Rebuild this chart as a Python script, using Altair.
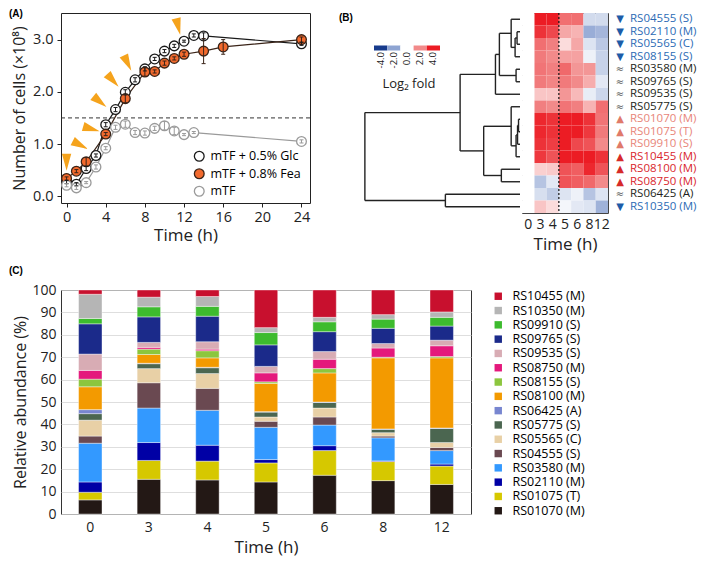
import altair as alt
import pandas as pd

FONT = "Open Sans"

# ---------------- Panel A : growth curves ----------------
glc_hours = [0, 1, 2, 3, 4, 5, 6, 7, 8, 9, 10, 11, 12, 13, 14, 24]
glc_cells = [0.27, 0.23, 0.53, 0.78, 1.37, 1.66, 1.99, 2.23, 2.44, 2.63, 2.78, 2.88, 2.97, 3.08, 3.07, 2.92]
glc_err = [0.03, 0.03, 0.04, 0.03, 0.04, 0.04, 0.05, 0.04, 0.04, 0.03, 0.03, 0.03, 0.02, 0.03, 0.06, 0.03]

fea_hours = [0, 1, 2, 4, 6, 8, 9, 10, 11, 12, 14, 16, 24]
fea_cells = [0.34, 0.48, 0.66, 1.19, 1.87, 2.38, 2.39, 2.55, 2.64, 2.72, 2.78, 2.86, 3.00]
fea_err = [0.03, 0.03, 0.08, 0.03, 0.08, 0.08, 0.03, 0.04, 0.03, 0.04, 0.24, 0.14, 0.05]

mtf_hours = [0, 1, 2, 3, 4, 5, 6, 7, 8, 9, 10, 11, 12, 13, 24]
mtf_cells = [0.21, 0.16, 0.26, 0.56, 0.92, 1.32, 1.38, 1.22, 1.21, 1.30, 1.35, 1.25, 1.18, 1.22, 1.05]
mtf_err = [0.03, 0.03, 0.02, 0.04, 0.03, 0.04, 0.06, 0.04, 0.04, 0.04, 0.08, 0.07, 0.02, 0.02, 0.03]

series_names = ["mTF + 0.5% Glc", "mTF + 0.8% Fea", "mTF"]
series_fill = ["#ffffff", "#f26a2e", "#ffffff"]
series_stroke = ["#1a1a1a", "#3a2418", "#9a9a9a"]

threshold = 1.5

arrow_t = [0, 1.4, 2.53, 3.4, 4.73, 6.23, 11.4]
arrow_y = [0.65, 0.98, 1.29, 1.81, 2.22, 2.55, 3.25]
arrow_angle = [0, 297, 286, 309, 318, 334, 346]

# ---------------- Panel B : heatmap ----------------
genes = ["RS04555 (S)", "RS02110 (M)", "RS05565 (C)", "RS08155 (S)", "RS03580 (M)",
         "RS09765 (S)", "RS09535 (S)", "RS05775 (S)", "RS01070 (M)", "RS01075 (T)",
         "RS09910 (S)", "RS10455 (M)", "RS08100 (M)", "RS08750 (M)", "RS06425 (A)",
         "RS10350 (M)"]
gene_class = ["down", "down", "down", "down", "neutral", "neutral", "neutral", "neutral",
              "uplight", "uplight", "uplight", "up", "up", "up", "neutral", "down"]
heat_times = ["0", "3", "4", "5", "6", "8", "12"]
lfc_0h = [0.0] * 16
lfc_3h = [4.2, 3.6, 2.5, 2.3, 2.4, 2.3, 1.0, 2.2, 3.8, 3.8, 3.6, 3.5, 0.8, -1.3, -0.7, 1.0]
lfc_4h = [4.0, 3.2, 2.2, 2.0, 2.2, 2.1, 1.0, 2.0, 3.6, 3.6, 3.4, 3.0, 0.9, -0.5, -1.1, 0.6]
lfc_5h = [2.5, 1.5, 0.6, 1.6, 2.6, 2.3, 1.8, 2.4, 4.0, 4.2, 4.0, 4.6, 3.0, 3.0, -0.6, -0.2]
lfc_6h = [2.5, 1.3, 1.5, 1.6, 1.8, 2.0, 1.2, 2.2, 4.0, 4.2, 3.2, 4.6, 2.8, 2.8, -0.3, -0.5]
lfc_8h = [-0.8, -1.8, -0.6, -0.3, 1.8, 1.4, -0.4, 1.3, 3.6, 3.5, 3.0, 4.6, 3.8, 2.6, -1.3, -0.6]
lfc_12h = [-0.8, -1.6, -1.2, -1.0, -1.0, -0.5, -0.9, 2.5, 2.4, 2.3, 2.0, 3.6, 3.0, 2.0, -0.6, -1.7]
lfc_cols = [lfc_0h, lfc_3h, lfc_4h, lfc_5h, lfc_6h, lfc_8h, lfc_12h]
split_time = "5"   # dotted line drawn before this column

# dendrogram merges (leaf index = row, 0 at top; new nodes numbered from 16)
merge_a = [1, 16, 0, 4, 18, 20, 8, 22, 23, 7, 12, 25, 21, 14, 28]
merge_b = [2, 3, 17, 5, 19, 6, 9, 10, 11, 24, 13, 26, 27, 15, 29]
merge_h = [3, 5, 9, 4, 21, 25, 1.5, 2.5, 4, 9, 19, 37, 61, 76, 158]

legend_keys = ["-4.0", "-2.0", "0.0", "2.0", "4.0"]
legend_vals = [-4, -2, 0, 2, 4]
heat_colors = ["#173b8c", "#8ea4d2", "#ffffff", "#f28a8a", "#ec1c24"]

# ---------------- Panel C : relative abundance ----------------
bar_times = ["0", "3", "4", "5", "6", "8", "12"]
stack_genes = ["RS01070 (M)", "RS01075 (T)", "RS02110 (M)", "RS03580 (M)", "RS04555 (S)",
               "RS05565 (C)", "RS05775 (S)", "RS06425 (A)", "RS08100 (M)", "RS08155 (S)",
               "RS08750 (M)", "RS09535 (S)", "RS09765 (S)", "RS09910 (S)", "RS10350 (M)",
               "RS10455 (M)"]
stack_colors = ["#231815", "#d6c800", "#0000a5", "#3399ff", "#6a4951", "#e8d0a6",
                "#4b6650", "#7886d0", "#f39a00", "#8cc63e", "#e4197c", "#d8acb4",
                "#1b2a8a", "#3dbb2e", "#b5b5b5", "#c8102e"]
abund_0h = [6.3, 3.4, 4.6, 17.3, 3.2, 7.1, 2.9, 1.8, 10.2, 3.4, 3.9, 7.3, 13.5, 2.4, 10.8, 1.9]
abund_3h = [15.5, 8.4, 8.0, 15.4, 11.3, 6.3, 2.2, 0.2, 3.9, 2.4, 0.8, 2.2, 11.4, 4.5, 4.3, 3.2]
abund_4h = [15.2, 8.4, 7.1, 15.6, 9.8, 6.6, 2.6, 0.2, 4.2, 3.2, 0.7, 3.3, 11.4, 4.4, 4.4, 2.9]
abund_5h = [14.3, 8.5, 1.5, 14.4, 2.7, 1.9, 2.2, 0.2, 12.6, 0.7, 4.0, 2.9, 9.6, 5.5, 2.2, 16.8]
abund_6h = [17.3, 11.0, 2.2, 9.2, 3.6, 4.0, 2.5, 0.2, 13.0, 1.9, 4.2, 3.4, 8.9, 4.4, 2.0, 12.2]
abund_8h = [14.9, 8.5, 0.3, 10.3, 0.8, 1.5, 1.5, 0.2, 31.7, 0.3, 4.1, 2.0, 6.8, 4.1, 2.0, 11.0]
abund_12h = [13.2, 8.2, 0.9, 6.0, 1.4, 2.2, 6.3, 0.2, 31.3, 0.6, 4.8, 2.5, 6.3, 3.9, 2.4, 9.8]
abund_cols = [abund_0h, abund_3h, abund_4h, abund_5h, abund_6h, abund_8h, abund_12h]

IND = dict(color="independent", fill="independent", stroke="independent")

# =====================================================================
# Panel A
rows = []
for name, hs, vs, es in [(series_names[0], glc_hours, glc_cells, glc_err),
                         (series_names[1], fea_hours, fea_cells, fea_err),
                         (series_names[2], mtf_hours, mtf_cells, mtf_err)]:
    for h, v, e in zip(hs, vs, es):
        rows.append(dict(series=name, t=h, n=v, lo=v - e, hi=v + e))
df_a = pd.DataFrame(rows)
df_arrow = pd.DataFrame(dict(t=arrow_t, n=arrow_y, ang=arrow_angle))
df_thr = pd.DataFrame(dict(n=[threshold]))

AW, AH = 249, 190
xs_a = alt.Scale(domain=[-0.57, 24.87], nice=False, zero=False)
ys_a = alt.Scale(domain=[-0.13, 3.51], nice=False, zero=False)
leg_a = alt.Legend(title=None, orient="none", legendX=132, legendY=137, padding=0,
                   symbolSize=95, symbolStrokeWidth=1.3, labelFontSize=12.5,
                   labelFont=FONT, labelOffset=5, rowPadding=1.5, symbolType="circle")
fill_a = alt.Fill("series:N", scale=alt.Scale(domain=series_names, range=series_fill), legend=leg_a)
stroke_a = alt.Stroke("series:N", scale=alt.Scale(domain=series_names, range=series_stroke), legend=leg_a)

x_a = alt.X("t:Q", scale=xs_a, axis=alt.Axis(title="Time (h)", values=[0, 4, 8, 12, 16, 20, 24],
            format="d", grid=False, domain=False, tickSize=4, labelFontSize=14.5,
            titleFontSize=17, labelPadding=3, titlePadding=4))
y_a = alt.Y("n:Q", scale=ys_a, axis=alt.Axis(title="Number of cells (×10⁸)", values=[0, 1, 2, 3],
            format=".1f", grid=False, domain=False, tickSize=4, labelFontSize=14.5,
            titleFontSize=16, labelPadding=4, titleX=-34, titleBaseline="bottom"))

thr = alt.Chart(df_thr).mark_rule(color="#333333", strokeDash=[4, 3], strokeWidth=1).encode(y=alt.Y("n:Q", scale=ys_a))
lines = alt.Chart(df_a).mark_line(strokeWidth=1.2).encode(x=x_a, y=y_a, stroke=stroke_a, detail="series:N")
pts = alt.Chart(df_a).mark_point(shape="circle", size=95, strokeWidth=1.3, opacity=1).encode(
    x=x_a, y=y_a, fill=fill_a, stroke=stroke_a)
ebar = alt.Chart(df_a).mark_rule(strokeWidth=1).encode(x="t:Q", y="lo:Q", y2="hi:Q", stroke=stroke_a)
cap_lo = alt.Chart(df_a).mark_point(shape="stroke", size=16, strokeWidth=1, opacity=1).encode(
    x="t:Q", y="lo:Q", stroke=stroke_a)
cap_hi = alt.Chart(df_a).mark_point(shape="stroke", size=16, strokeWidth=1, opacity=1).encode(
    x="t:Q", y="hi:Q", stroke=stroke_a)
arrows = alt.Chart(df_arrow).mark_point(shape="M-0.55,-1L0.55,-1L0,1Z", filled=True, size=289,
                                        color="#f5a31c", opacity=1).encode(
    x="t:Q", y="n:Q", angle=alt.Angle("ang:Q", scale=None))
lab_a = alt.Chart(pd.DataFrame(dict(s=["(A)"]))).mark_text(
    font="Liberation Sans", fontWeight="bold", fontSize=10, align="left", baseline="top").encode(
    text="s:N", x=alt.value(-52), y=alt.value(-4))

panel_a = alt.layer(thr, lines, pts, ebar, cap_lo, cap_hi, arrows, lab_a).properties(
    width=AW, height=AH, view=alt.ViewBackground(stroke="#222222", strokeWidth=1))

# =====================================================================
# Panel B : dendrogram + legend
pos = {i: i + 0.5 for i in range(16)}
hgt = {i: 0.0 for i in range(16)}
segs = []
for k, (a, b, h) in enumerate(zip(merge_a, merge_b, merge_h)):
    node = 16 + k
    segs.append(dict(x0=h, x1=h, y0=pos[a], y1=pos[b]))
    segs.append(dict(x0=hgt[a], x1=h, y0=pos[a], y1=pos[a]))
    segs.append(dict(x0=hgt[b], x1=h, y0=pos[b], y1=pos[b]))
    pos[node] = (pos[a] + pos[b]) / 2
    hgt[node] = h
df_seg = pd.DataFrame(segs)

DW, HH = 183, 200
heat_scale = alt.Scale(type="linear", domain=legend_vals, range=heat_colors, clamp=True,
                       interpolate="rgb", zero=False, nice=False)

dend = alt.Chart(df_seg).mark_rule(color="#222222", strokeWidth=1.4).encode(
    x=alt.X("x0:Q", scale=alt.Scale(domain=[0, 186.4], reverse=True, nice=False, zero=False), axis=None),
    x2="x1:Q",
    y=alt.Y("y0:Q", scale=alt.Scale(domain=[0, 16], reverse=True, nice=False, zero=False), axis=None),
    y2="y1:Q")
df_leg = pd.DataFrame(dict(k=legend_keys, v=legend_vals))
leg_x = alt.X("k:N", sort=legend_keys, scale=alt.Scale(domain=legend_keys, range=[37, 103],
              paddingInner=0, paddingOuter=0), axis=None)
swatch = alt.Chart(df_leg).mark_rect().encode(
    x=leg_x, y=alt.value(32.5), y2=alt.value(37.5),
    fill=alt.Fill("v:Q", scale=heat_scale, legend=None))
swlab = alt.Chart(df_leg).mark_text(angle=270, align="right", baseline="middle", fontSize=9.5,
                                    font=FONT, color="#222222").encode(
    x=leg_x, y=alt.value(39), text="k:N")
logfold = alt.Chart(pd.DataFrame(dict(s=["Log₂ fold"]))).mark_text(
    font=FONT, fontSize=13, align="center", baseline="middle", color="#222222").encode(
    text="s:N", x=alt.value(72), y=alt.value(71))
lab_b = alt.Chart(pd.DataFrame(dict(s=["(B)"]))).mark_text(
    font="Liberation Sans", fontWeight="bold", fontSize=10, align="left", baseline="top").encode(
    text="s:N", x=alt.value(2), y=alt.value(0))
dendro = alt.layer(dend, swatch, swlab, logfold, lab_b).resolve_scale(
    x="independent", y="independent").properties(width=DW, height=HH, view=alt.ViewBackground(stroke=None))

# heatmap
hrows = []
for ti, col in zip(heat_times, lfc_cols):
    for g, v in zip(genes, col):
        hrows.append(dict(time=ti, gene=g, lfc=float(v)))
df_heat = pd.DataFrame(hrows)
df_heat0 = df_heat[df_heat["time"] == heat_times[0]]   # reference time point: log2 fold = 0
df_genes = pd.DataFrame(dict(gene=genes, cat=gene_class,
                             sym=["▼" if c == "down" else ("≈" if c == "neutral" else "▲") for c in gene_class]))

HW = 86
hxs = alt.Scale(domain=heat_times, paddingInner=0, paddingOuter=0)
hx = alt.X("time:O", sort=heat_times, scale=hxs,
           axis=alt.Axis(title="Time (h)", labelAngle=0, domain=False, ticks=False, labelOverlap=False,
                         labelBound=False, labelFontSize=14, titleFontSize=17, labelPadding=4,
                         titlePadding=5, labelFlush=False))
hy = alt.Y("gene:N", sort=genes, scale=alt.Scale(domain=genes, paddingInner=0, paddingOuter=0), axis=None)
cells = alt.Chart(df_heat).mark_rect(strokeWidth=0, opacity=1).encode(
    x=hx, y=hy, fill=alt.Fill("lfc:Q", scale=heat_scale, legend=None))
cells0 = alt.Chart(df_heat0).mark_rect(strokeWidth=0, opacity=1).encode(
    x=hx, y=hy, fill=alt.value(heat_colors[legend_vals.index(0)]))
dash = alt.Chart(pd.DataFrame(dict(time=[split_time]))).mark_rule(
    color="#111111", strokeDash=[2, 2], strokeWidth=1.2).encode(
    x=alt.X("time:O", sort=heat_times, bandPosition=0, scale=hxs))
cats = ["down", "neutral", "uplight", "up"]
syms = alt.Chart(df_genes).mark_text(font="DejaVu Sans", fontSize=10, align="center", baseline="middle").encode(
    y=hy, x=alt.value(HW + 12), text="sym:N",
    color=alt.Color("cat:N", scale=alt.Scale(domain=cats, range=["#1d5ca8", "#555555", "#e07a6a", "#d62a2a"]),
                    legend=None))
names = alt.Chart(df_genes).mark_text(font=FONT, fontSize=11.5, align="left", baseline="middle").encode(
    y=hy, x=alt.value(HW + 22), text="gene:N",
    color=alt.Color("cat:N", scale=alt.Scale(domain=cats, range=["#2c6bb5", "#231f20", "#e88579", "#d9262d"]),
                    legend=None))
heat = alt.layer(cells, cells0, dash, syms, names).resolve_scale(**IND).properties(
    width=HW, height=HH, view=alt.ViewBackground(stroke="#444444", strokeWidth=1))

panel_b = alt.hconcat(dendro, heat, spacing=0).resolve_scale(**IND).resolve_legend(**IND)

# =====================================================================
# Panel C
crow = []
for ti, col in zip(bar_times, abund_cols):
    for r, (g, v) in enumerate(zip(stack_genes, col)):
        crow.append(dict(time=ti, gene=g, pct=v, rank=r))
df_c = pd.DataFrame(crow)
legend_order = stack_genes[::-1]
legend_colors = stack_colors[::-1]

CW, CH = 410, 224
bars = alt.Chart(df_c).mark_bar(stroke="white", strokeWidth=0.4).encode(
    x=alt.X("time:O", sort=bar_times, scale=alt.Scale(domain=bar_times, paddingInner=0.6, paddingOuter=0.3),
            axis=alt.Axis(title="Time (h)", labelAngle=0, domain=False, ticks=False, labelFontSize=14,
                          titleFontSize=17, labelPadding=6, titlePadding=5)),
    y=alt.Y("pct:Q", stack="zero", scale=alt.Scale(domain=[0, 100], nice=False),
            axis=alt.Axis(title="Relative abundance (%)", values=list(range(0, 101, 10)), domain=False,
                          ticks=False, grid=True, gridColor="#d6d6d6", gridWidth=0.8, labelFontSize=14,
                          titleFontSize=16, labelPadding=5, titleX=-33, titleBaseline="bottom")),
    color=alt.Color("gene:N", scale=alt.Scale(domain=legend_order, range=legend_colors),
                    legend=alt.Legend(title=None, orient="right", offset=21, padding=0, symbolType="square",
                                      symbolSize=55, symbolStrokeWidth=0, labelFontSize=12.5, labelFont=FONT,
                                      labelOffset=8, rowPadding=1.3)),
    order=alt.Order("rank:Q", sort="ascending"))
lab_c = alt.Chart(pd.DataFrame(dict(s=["(C)"]))).mark_text(
    font="Liberation Sans", fontWeight="bold", fontSize=10, align="left", baseline="top").encode(
    text="s:N", x=alt.value(-52), y=alt.value(-24))
panel_c = alt.layer(bars, lab_c).properties(width=CW, height=CH,
                                            view=alt.ViewBackground(stroke="#333333", strokeWidth=1))

top = alt.hconcat(panel_a, panel_b, spacing=26).resolve_scale(**IND).resolve_legend(**IND)
chart = alt.vconcat(top, panel_c, spacing=12).resolve_scale(**IND).resolve_legend(**IND).properties(
    padding=0).configure_view(stroke=None).configure_axis(
    labelFont=FONT, titleFont=FONT, titleFontWeight="normal", labelColor="#222222", titleColor="#222222",
    tickColor="#222222").configure_text(font=FONT)

chart.save("out.html", embed_options={"renderer": "svg", "actions": False})
